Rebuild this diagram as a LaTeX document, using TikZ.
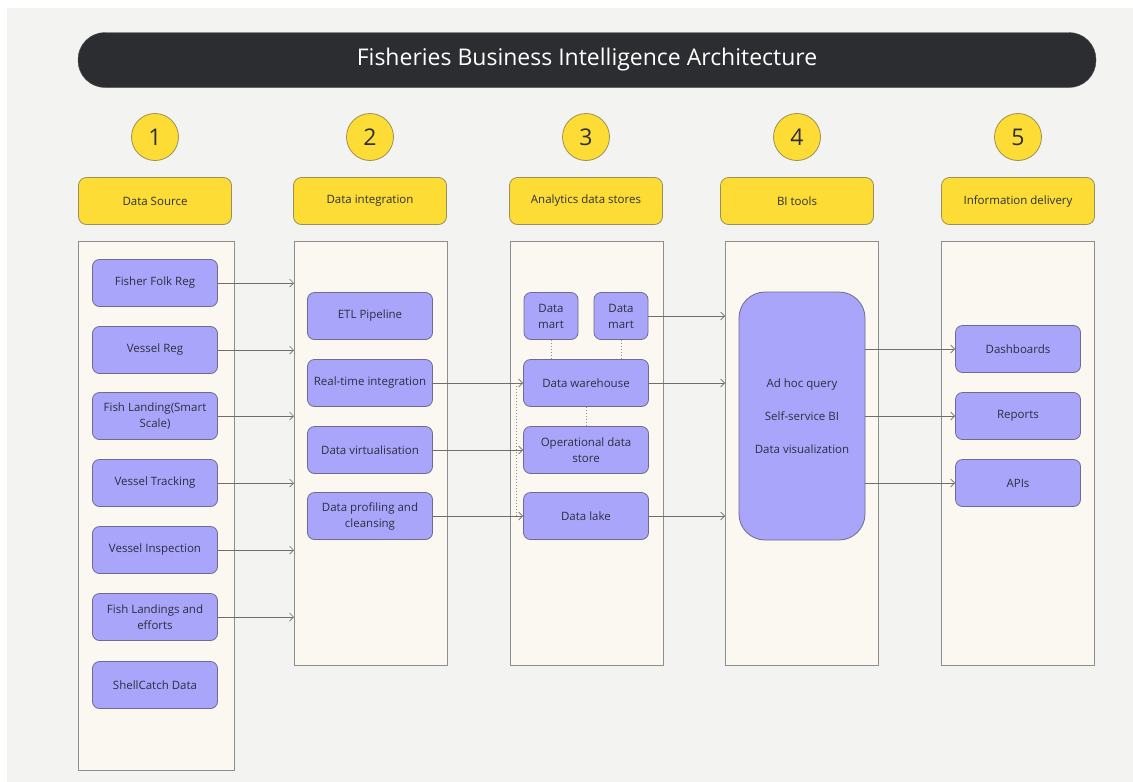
\documentclass[tikz,border=0pt]{standalone}
\usepackage{fontspec}
\setmainfont{Open Sans}
\usepackage{tikz}
\usetikzlibrary{arrows.meta,calc}

\definecolor{bgcol}{HTML}{F3F3F1}
\definecolor{panelfill}{HTML}{FAF8F0}
\definecolor{panelline}{HTML}{8E8E8E}
\definecolor{itemfill}{HTML}{A9A5FA}
\definecolor{itemline}{HTML}{6E6C8A}
\definecolor{headfill}{HTML}{FDDD35}
\definecolor{headline}{HTML}{9A8F5A}
\definecolor{titlefill}{HTML}{2B2D31}
\definecolor{inkcol}{HTML}{2E2E3E}
\definecolor{flowcol}{HTML}{6E6E6E}

\tikzset{
  panel/.style={draw=panelline, fill=panelfill, line width=0.9pt},
  item/.style={draw=itemline, fill=itemfill, line width=0.8pt, rounded corners=7pt,
    minimum width=125pt, minimum height=47pt, align=center, text=inkcol,
    font=\fontsize{11.5}{16}\selectfont, inner sep=2pt},
  head/.style={draw=headline, fill=headfill, line width=0.8pt, rounded corners=8pt,
    minimum width=153pt, minimum height=47pt, text=inkcol,
    font=\fontsize{11.5}{14}\selectfont},
  num/.style={circle, draw=headline, fill=headfill, line width=0.8pt,
    minimum size=47pt, text=inkcol, font=\fontsize{23}{26}\selectfont},
  flow/.style={draw=flowcol, line width=0.7pt, -{Straight Barb[length=4pt,width=8pt]}},
  link/.style={draw=flowcol!80, line width=1pt, dotted},
}

\begin{document}
\begin{tikzpicture}[x=1pt, y=-1pt]
  % canvas
  \useasboundingbox (0,0) rectangle (1133,782);
  \fill[white] (0,0) rectangle (1133,782);
  \fill[bgcol] (7,8) rectangle (1133,782);

  % title bar
  \node (title) [fill=titlefill, draw=black!70, rounded corners=27pt, minimum width=1018pt,
    minimum height=55pt, text=white, font=\fontsize{23}{26}\selectfont]
    at (587,60) {Fisheries Business Intelligence Architecture};

  % numbered headers
  \foreach \n/\x/\lbl in {1/155/Data Source, 2/370/Data integration,
      3/586/Analytics data stores, 4/797/BI tools, 5/1018/Information delivery} {
    \node (n\n) [num] at (\x,137) {\n};
    \node (h\n) [head] at (\x,201) {\lbl};
  }

  % column panels
  \draw[panel] (78,241) rectangle (234,770);
  \draw[panel] (294,241) rectangle (447,665);
  \draw[panel] (510,241) rectangle (663,665);
  \draw[panel] (725,241) rectangle (878,665);
  \draw[panel] (941,241) rectangle (1094,665);
  \coordinate (p2) at (294,0);
  \coordinate (p4) at (725,0);

  % 1: data sources
  \node (fisher)  [item] at (155,283) {Fisher Folk Reg};
  \node (vessel)  [item] at (155,350) {Vessel Reg};
  \node (smart)   [item] at (155,416) {Fish Landing(Smart\\Scale)};
  \node (track)   [item] at (155,483) {Vessel Tracking};
  \node (inspect) [item] at (155,550) {Vessel Inspection};
  \node (effort)  [item] at (155,617) {Fish Landings and\\efforts};
  \node (shell)   [item] at (155,685) {ShellCatch Data};

  % 2: integration
  \node (etl)     [item] at (370,316) {ETL Pipeline};
  \node (rt)      [item] at (370,383) {Real-time integration};
  \node (virt)    [item] at (370,450) {Data virtualisation};
  \node (prof)    [item] at (370,516) {Data profiling and\\cleansing};

  % 3: analytics data stores
  \node (mart1)   [item, minimum width=54pt] at (551,316) {Data\\mart};
  \node (mart2)   [item, minimum width=54pt] at (621,316) {Data\\mart};
  \node (wh)      [item] at (586,383) {Data warehouse};
  \node (ods)     [item] at (586,450) {Operational data\\store};
  \node (lake)    [item] at (586,516) {Data lake};

  % 4: BI tools
  \node (bi) [item, rounded corners=26pt, minimum width=126pt, minimum height=248pt]
    at (802,416) {Ad hoc query\\[17pt]Self-service BI\\[17pt]Data visualization};

  % 5: delivery
  \node (dash)    [item] at (1018,349) {Dashboards};
  \node (rep)     [item] at (1018,416) {Reports};
  \node (api)     [item] at (1018,483) {APIs};

  % sources into integration
  \foreach \s in {fisher,vessel,smart,track,inspect,effort}
    \draw[flow] (\s.east) -- (\s.east -| p2);

  % integration into stores
  \draw[flow] (rt.east) -- (wh.west);
  \draw[flow] (virt.east) -- (ods.west);
  \draw[flow] (prof.east) -- (lake.west);

  % stores into BI tools
  \draw[flow] (mart2.east) -- (mart2.east -| p4);
  \draw[flow] (wh.east) -- (wh.east -| p4);
  \draw[flow] (lake.east) -- (lake.east -| p4);

  % BI tools out to delivery
  \foreach \d in {dash,rep,api}
    \draw[flow] (\d.west -| bi.east) -- (\d.west);

  % store links
  \draw[link] (mart1.south) -- (mart1.south |- wh.north);
  \draw[link] (mart2.south) -- (mart2.south |- wh.north);
  \draw[link] (wh.south) -- (ods.north);
  \draw[link] ([xshift=-7pt]wh.west) -- ([xshift=-7pt]lake.west);
\end{tikzpicture}
\end{document}
